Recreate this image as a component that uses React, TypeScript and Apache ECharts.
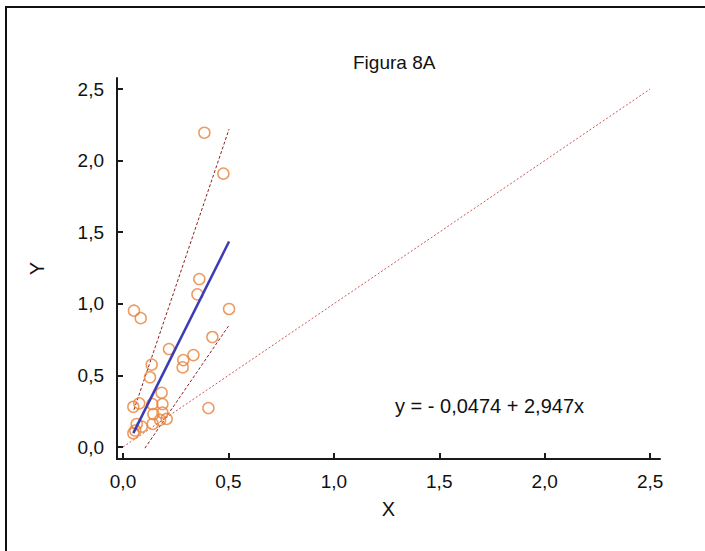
import React, { useEffect, useRef } from "react";
import * as echarts from "echarts";

const tickValues = [0, 0.5, 1.0, 1.5, 2.0, 2.5];

const pointsX = [
  0.052, 0.084, 0.362, 0.353, 0.503, 0.424, 0.218, 0.334, 0.286, 0.283,
  0.136, 0.128, 0.183, 0.405, 0.077, 0.049, 0.139, 0.187, 0.144, 0.187,
  0.176, 0.207, 0.141, 0.065, 0.089, 0.049, 0.058, 0.386, 0.476,
];
const pointsY = [
  0.952, 0.9, 1.173, 1.066, 0.964, 0.768, 0.684, 0.642, 0.607, 0.556,
  0.575, 0.487, 0.379, 0.272, 0.305, 0.281, 0.3, 0.3, 0.23, 0.24,
  0.189, 0.196, 0.161, 0.161, 0.142, 0.096, 0.115, 2.195, 1.909,
];

const regIntercept = -0.0474;
const regSlope = 2.947;
const regXRange = [0.049, 0.503];

const upperLineX = [0.052, 0.503];
const upperLineY = [0.26, 2.22];
const lowerLineX = [0.104, 0.5];
const lowerLineY = [-0.008, 0.844];
const identityX = [0, 2.5];
const identityY = [0, 2.5];

const fmt = (v: number) => v.toFixed(1).replace(".", ",");

export default function App() {
  const ref = useRef<HTMLDivElement>(null);
  useEffect(() => {
    document.body.style.margin = "0";
    const chart = echarts.init(ref.current!, null, { renderer: "svg" });
    const font = "'Liberation Sans', Arial, sans-serif";
    const axisCommon = {
      type: "value" as const,
      splitLine: { show: false },
      axisLine: { show: true, onZero: false, lineStyle: { color: "#1a1a1a", width: 2 } },
      axisTick: {
        show: true,
        inside: true,
        length: 6,
        customValues: tickValues,
        lineStyle: { color: "#1a1a1a", width: 2 },
      },
      axisLabel: {
        customValues: tickValues,
        formatter: (v: number) => fmt(v),
        color: "#111",
        fontSize: 19,
        fontFamily: font,
        margin: 13,
      },
      nameLocation: "middle" as const,
      nameTextStyle: { color: "#111", fontSize: 20, fontFamily: font },
    };
    const pts = pointsX.map((x, i) => [x, pointsY[i]]);
    const reg = regXRange.map((x) => [x, regIntercept + regSlope * x]);
    chart.setOption({
      animation: false,
      backgroundColor: "#fff",
      title: {
        text: "Figura 8A",
        left: 348,
        top: 48,
        textStyle: { fontSize: 19, fontWeight: "normal", color: "#111", fontFamily: font },
      },
      graphic: [
        {
          type: "rect",
          shape: { x: 6, y: 7, width: 800, height: 700 },
          style: { fill: "none", stroke: "#111", lineWidth: 2 },
          silent: true,
        },
        {
          type: "text",
          left: 395,
          top: 396,
          style: {
            text: "y = - 0,0474 + 2,947x",
            fontSize: 20,
            fontFamily: font,
            fill: "#111",
          },
        },
      ],
      grid: { left: 117, top: 78, width: 543, height: 381, containLabel: false },
      xAxis: { ...axisCommon, min: -0.0285, max: 2.547, name: "X", nameGap: 40 },
      yAxis: { ...axisCommon, min: -0.0838, max: 2.577, name: "Y", nameGap: 70 },
      series: [
        {
          type: "line",
          data: identityX.map((x, i) => [x, identityY[i]]),
          symbol: "none",
          lineStyle: { color: "#cc5555", width: 1, type: [2, 2] },
          z: 1,
        },
        {
          type: "line",
          data: upperLineX.map((x, i) => [x, upperLineY[i]]),
          symbol: "none",
          lineStyle: { color: "#8b2020", width: 1, type: [3, 2] },
          z: 2,
        },
        {
          type: "line",
          data: lowerLineX.map((x, i) => [x, lowerLineY[i]]),
          symbol: "none",
          lineStyle: { color: "#8b2020", width: 1, type: [3, 2] },
          z: 2,
        },
        {
          type: "scatter",
          data: pts,
          symbol: "circle",
          symbolSize: 11,
          itemStyle: { color: "rgba(255,255,255,0)", borderColor: "#e8823a", borderWidth: 1.5 },
          z: 3,
        },
        {
          type: "line",
          data: reg,
          symbol: "none",
          lineStyle: { color: "#3c3cb4", width: 2.5 },
          z: 4,
        },
      ],
    });
    return () => chart.dispose();
  }, []);
  return <div ref={ref} style={{ width: 705, height: 551 }} />;
}
